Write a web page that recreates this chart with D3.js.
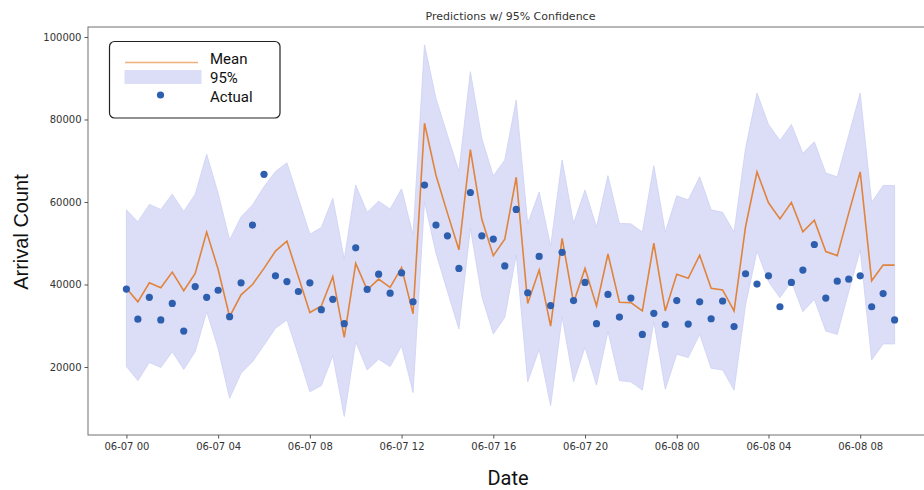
<!DOCTYPE html>
<html>
<head>
<meta charset="utf-8">
<script src="https://cdn.jsdelivr.net/npm/d3@7"></script>
<style>
  body { margin: 0; background: #fff; }
  svg { display: block; }
</style>
</head>
<body>
<div id="chart"></div>
<script>
// half-hourly samples starting 06-07 00:00
var startTime = Date.UTC(2023, 5, 7, 0, 0);
var stepMinutes = 30;

var actual = [38900, 31600, 36900, 31400, 35400, 28700, 39500, 36900, 38600, 32200,
  40400, 54400, 66700, 42100, 40700, 38300, 40400, 33900, 36400, 30500,
  48900, 38800, 42500, 37900, 42800, 35800, 64100, 54400, 51800, 43900,
  62300, 51800, 51000, 44500, 58200, 38000, 46800, 34900, 47800, 36100,
  40500, 30500, 37600, 32100, 36700, 27900, 33000, 30300, 36100, 30400,
  35800, 31700, 36000, 29800, 42600, 40100, 42100, 34600, 40500, 43500,
  49700, 36700, 40800, 41300, 42100, 34600, 37800, 31400];

var mean = [39100, 35800, 40400, 39200, 43000, 38500, 42700, 52700, 43700, 32200,
  37500, 40000, 43900, 48100, 50500, 41900, 33200, 34800, 41900, 27200,
  45100, 38700, 41300, 39300, 44100, 32900, 79100, 66500, 57300, 48400,
  72700, 55800, 47000, 51000, 66000, 35400, 43500, 29900, 51200, 35600,
  43900, 34800, 47400, 35700, 35600, 33600, 50000, 33600, 42500, 41500,
  47100, 39100, 38700, 33600, 54000, 67300, 59800, 55900, 59900, 52800,
  55600, 48000, 47000, 57300, 67300, 40900, 44700, 44700];

var upper = [58100, 55200, 59400, 58200, 61900, 57700, 61900, 71600, 62100, 50800,
  56400, 59300, 63700, 67400, 69500, 60900, 52200, 53800, 60900, 46100,
  64100, 57500, 60200, 58300, 63200, 52000, 98100, 85100, 76200, 67400,
  91600, 75400, 66300, 70200, 84700, 54700, 62400, 49300, 70200, 54800,
  62900, 53900, 66400, 54800, 54700, 52700, 68800, 52700, 61500, 60500,
  66100, 58100, 57500, 52700, 73000, 86400, 78800, 74900, 78800, 71800,
  74600, 67000, 66100, 76200, 86400, 59900, 64000, 64000];

var lower = [20100, 16700, 21100, 19900, 23700, 19400, 23700, 33400, 24500, 12400,
  18500, 21300, 25300, 29400, 31400, 22900, 14000, 15500, 22700, 8000,
  26100, 19300, 21900, 20100, 25100, 13800, 60100, 47600, 38300, 29200,
  53600, 37100, 28000, 32000, 47200, 16400, 24300, 10600, 32200, 16400,
  24800, 15600, 28600, 16700, 16400, 14400, 31000, 14600, 23100, 22300,
  27900, 19700, 19300, 14400, 35000, 48100, 40700, 36800, 40700, 33400,
  36400, 28700, 27900, 38300, 48400, 21700, 25600, 25600];

var yTicks = [20000, 40000, 60000, 80000, 100000];
var legendLabels = ["Mean", "95%", "Actual"];

var width = 924, height = 490;
var plotL = 88, plotR = 933, plotT = 27, plotB = 435;
var hour = 3600 * 1000;

var data = actual.map(function(a, i) {
  return {t: new Date(startTime + i * stepMinutes * 60000), actual: a,
          mean: mean[i], upper: upper[i], lower: lower[i]};
});

var x = d3.scaleUtc()
  .domain([new Date(startTime - 1.675 * hour), new Date(startTime + 35.175 * hour)])
  .range([plotL, plotR]);
var y = d3.scaleLinear()
  .domain([3515, 102424])
  .range([plotB, plotT]);

var svg = d3.select("#chart").append("svg")
  .attr("width", width)
  .attr("height", height);

svg.append("clipPath").attr("id", "plotclip")
  .append("rect")
  .attr("x", plotL).attr("y", plotT)
  .attr("width", plotR - plotL).attr("height", plotB - plotT);

var plot = svg.append("g").attr("clip-path", "url(#plotclip)");

var area = d3.area()
  .x(function(d) { return x(d.t); })
  .y0(function(d) { return y(d.lower); })
  .y1(function(d) { return y(d.upper); });

plot.append("path")
  .datum(data)
  .attr("d", area)
  .attr("fill", "#dcdef8")
  .attr("stroke", "#cdd0f4")
  .attr("stroke-width", 0.8);

var line = d3.line()
  .x(function(d) { return x(d.t); })
  .y(function(d) { return y(d.mean); });

plot.append("path")
  .datum(data)
  .attr("d", line)
  .attr("fill", "none")
  .attr("stroke", "#e0843c")
  .attr("stroke-width", 1.6);

plot.selectAll("circle.actual")
  .data(data)
  .enter().append("circle")
  .attr("class", "actual")
  .attr("cx", function(d) { return x(d.t); })
  .attr("cy", function(d) { return y(d.actual); })
  .attr("r", 3.6)
  .attr("fill", "#2e5faf");

// frame
svg.append("rect")
  .attr("x", plotL).attr("y", plotT)
  .attr("width", plotR - plotL).attr("height", plotB - plotT)
  .attr("fill", "none")
  .attr("stroke", "#707070")
  .attr("stroke-width", 1);

var xAxis = d3.axisBottom(x)
  .ticks(d3.utcHour.every(4))
  .tickFormat(d3.utcFormat("%m-%d %H"))
  .tickSize(3.5)
  .tickPadding(4);

var gx = svg.append("g")
  .attr("transform", "translate(0," + plotB + ")")
  .call(xAxis);
gx.select(".domain").remove();

var yAxis = d3.axisLeft(y)
  .tickValues(yTicks)
  .tickFormat(d3.format("d"))
  .tickSize(3.5)
  .tickPadding(3);

var gy = svg.append("g")
  .attr("transform", "translate(" + plotL + ",0)")
  .call(yAxis);
gy.select(".domain").remove();

svg.selectAll(".tick line").attr("stroke", "#555");
svg.selectAll(".tick text")
  .attr("fill", "#333")
  .style("font-family", "DejaVu Sans")
  .style("font-size", "10px");

svg.append("text")
  .attr("x", (plotL + plotR) / 2)
  .attr("y", 20)
  .attr("text-anchor", "middle")
  .style("font-family", "DejaVu Sans")
  .style("font-size", "11px")
  .attr("fill", "#333")
  .text("Predictions w/ 95% Confidence");

svg.append("text")
  .attr("transform", "translate(28,232) rotate(-90)")
  .attr("text-anchor", "middle")
  .style("font-family", "Liberation Sans")
  .style("font-size", "20px")
  .attr("fill", "#111")
  .text("Arrival Count");

svg.append("text")
  .attr("x", 508)
  .attr("y", 485)
  .attr("text-anchor", "middle")
  .style("font-family", "Roboto")
  .style("font-size", "20px")
  .attr("fill", "#111")
  .text("Date");

// legend
var legend = svg.append("g");
legend.append("rect")
  .attr("x", 109.5).attr("y", 41.5)
  .attr("width", 170.5).attr("height", 76.5)
  .attr("rx", 5)
  .attr("fill", "#fff")
  .attr("stroke", "#222")
  .attr("stroke-width", 1.2);
legend.append("line")
  .attr("x1", 125).attr("x2", 198)
  .attr("y1", 62.5).attr("y2", 62.5)
  .attr("stroke", "#f0b07c")
  .attr("stroke-width", 1.6);
legend.append("rect")
  .attr("x", 124.5).attr("y", 70)
  .attr("width", 77).attr("height", 14)
  .attr("fill", "#dcdef8");
legend.append("circle")
  .attr("cx", 160.5).attr("cy", 95)
  .attr("r", 3.6)
  .attr("fill", "#2e5faf");
legend.selectAll("text.leg")
  .data(legendLabels)
  .enter().append("text")
  .attr("class", "leg")
  .attr("x", 210)
  .attr("y", function(d, i) { return 63.5 + i * 19; })
  .style("font-family", "Roboto")
  .style("font-size", "15px")
  .attr("fill", "#111")
  .text(function(d) { return d; });
</script>
</body>
</html>
